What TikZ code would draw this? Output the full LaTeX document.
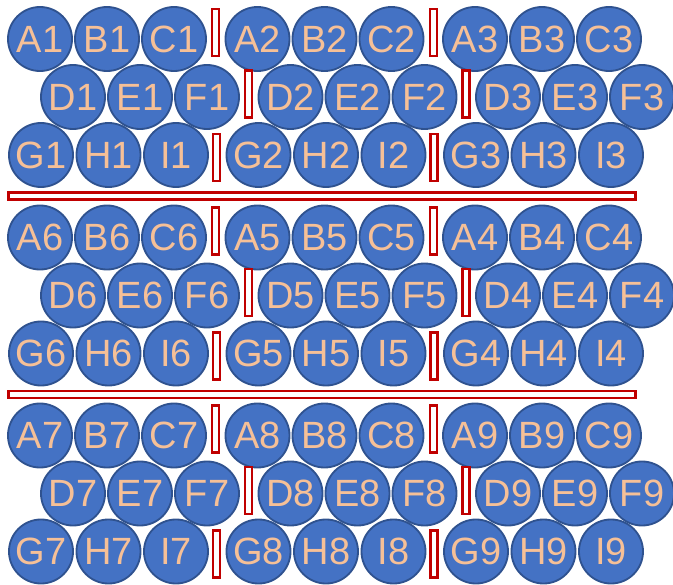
\documentclass[tikz,border=0pt]{standalone}
\usepackage{fontspec}
\setmainfont{Liberation Sans}
\definecolor{cellblue}{HTML}{4472C4}
\definecolor{celledge}{HTML}{2F528F}
\definecolor{celltext}{HTML}{F6C097}
\definecolor{sepred}{HTML}{C00000}

\begin{document}
\begin{tikzpicture}[x=0.025cm, y=-0.025cm,
  cell/.style={circle, fill=cellblue, draw=celledge, line width=1.3pt,
    minimum size=1.6cm, inner sep=0pt, text=celltext,
    font=\fontsize{27}{27}\selectfont},
  sepbar/.style={draw=sepred, fill=white, line width=2pt, inner sep=0pt,
    minimum width=0.175cm, minimum height=1.175cm},
  sepline/.style={draw=sepred, fill=white, line width=2pt, inner sep=0pt,
    minimum width=15.675cm, minimum height=0.175cm}]
  \useasboundingbox (0,0) rectangle (673,585);
  % three blocks of three groups
  \foreach \blk/\yy in {0/39, 1/237.5, 2/435.5} {
    \foreach \grp in {0,1,2} {
      \pgfmathtruncatemacro{\num}{\blk==1 ? 6-\grp : 3*\blk+\grp+1}
      \pgfmathsetmacro{\xx}{40+217.5*\grp}
      \foreach \lbl [count=\k from 0] in {A,B,C}
        \node[cell] (\lbl\num) at (\xx+67*\k, \yy) {\lbl\num};
      \foreach \lbl [count=\k from 0] in {D,E,F}
        \node[cell] (\lbl\num) at (\xx+33+67*\k, \yy+58) {\lbl\num};
      \foreach \lbl [count=\k from 0] in {G,H,I}
        \node[cell] (\lbl\num) at (\xx+1+67.5*\k, \yy+116) {\lbl\num};
    }
    % separators between groups
    \foreach \sep in {0,1} {
      \node[sepbar] (septop\blk\sep) at (215.5+218*\sep, \yy-6.5) {};
      \node[sepbar] (sepmid\blk\sep) at (248.5+217.5*\sep, \yy+55) {};
      \node[sepbar] (sepbot\blk\sep) at (216.5+217.5*\sep, \yy+118.5) {};
    }
  }
  % separators between blocks
  \node[sepline] (rowsep1) at (322,196) {};
  \node[sepline] (rowsep2) at (322,394.5) {};
\end{tikzpicture}
\end{document}
